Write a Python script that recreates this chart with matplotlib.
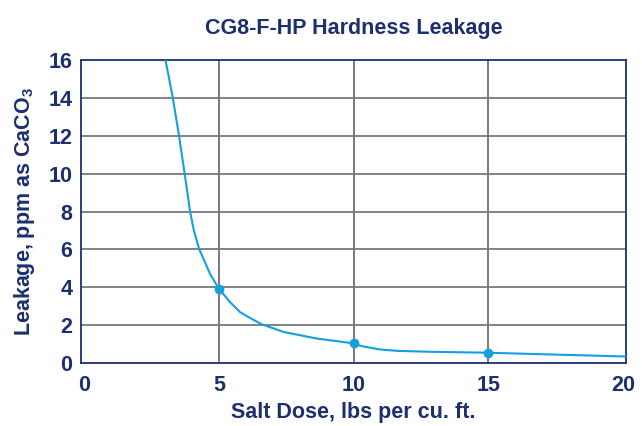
import matplotlib
matplotlib.use("Agg")
import matplotlib.pyplot as plt

# curve
salt_dose = [3.02, 3.29, 3.52, 3.73, 3.93, 4.07, 4.27, 4.43, 4.67, 5.0, 5.41, 5.78,
             6.15, 6.58, 7.39, 8.63, 9.86, 10.36, 10.98, 11.6, 12.83, 15.0, 17.77, 20.1]
leakage = [16.0, 14.0, 12.0, 10.0, 8.0, 7.0, 6.0, 5.5, 4.71, 3.92, 3.22, 2.69,
           2.38, 2.05, 1.64, 1.29, 1.06, 0.87, 0.71, 0.64, 0.59, 0.54, 0.43, 0.34]
marker_x = [5, 10, 15]
marker_y = [3.92, 1.03, 0.54]
xticks = [0, 5, 10, 15, 20]
yticks = [0, 2, 4, 6, 8, 10, 12, 14, 16]

navy = "#1c2f6e"
blue = "#13a0dc"

plt.rcParams['font.family'] = ['Liberation Sans', 'DejaVu Sans']
plt.rcParams['font.weight'] = 'bold'
plt.rcParams['mathtext.fontset'] = 'custom'
plt.rcParams['mathtext.rm'] = 'Liberation Sans:bold'
plt.rcParams['mathtext.it'] = 'Liberation Sans:bold'

fig = plt.figure(figsize=(6.42, 4.26), dpi=100)
ax = fig.add_axes([0.126, 0.148, 0.849, 0.711])

for v in [5, 10, 15]:
    ax.axvline(v, color="#6e6e6e", lw=1.3, zorder=1)
for h in [2, 4, 6, 8, 10, 12, 14]:
    ax.axhline(h, color="#7a7a7a", lw=1.3, zorder=1)

ax.plot(salt_dose, leakage, color=blue, lw=1.5, zorder=3, solid_joinstyle='round')
ax.plot(marker_x, marker_y, 'o', color=blue, ms=6, zorder=4)

ax.set_xlim(-0.12, 20.1)
ax.set_ylim(0, 16)
ax.set_xticks(xticks)
ax.set_yticks(yticks)
ax.tick_params(length=0, labelsize=15.5, colors=navy)
ax.tick_params(axis='x', pad=9)
ax.tick_params(axis='y', pad=6)
for lab in ax.get_xticklabels() + ax.get_yticklabels():
    lab.set_fontweight('bold')
for s in ax.spines.values():
    s.set_color(navy)
    s.set_linewidth(1.3)

ax.set_title("CG8-F-HP Hardness Leakage", color=navy, fontsize=15.5,
             fontweight='bold', pad=19)
ax.set_xlabel("Salt Dose, lbs per cu. ft.", color=navy, fontsize=15.5,
              fontweight='bold', labelpad=4)
ax.set_ylabel(r"Leakage, ppm as CaCO$_3$", color=navy, fontsize=15.5,
              fontweight='bold', labelpad=8)

fig.savefig("out.png", dpi=100)
